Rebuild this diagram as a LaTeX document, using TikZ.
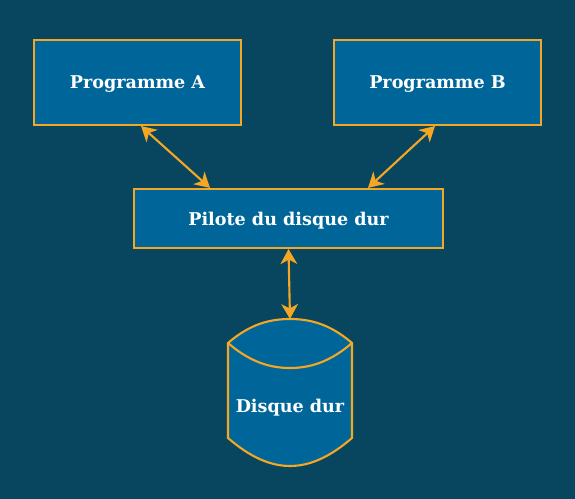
\documentclass[tikz,border=0pt]{standalone}
\usepackage{fontspec}
\setmainfont{DejaVu Serif}
\usetikzlibrary{arrows.meta}
\definecolor{bgteal}{HTML}{08465F}
\definecolor{boxblue}{HTML}{006699}
\definecolor{edgeorange}{HTML}{F5A623}
\begin{document}
\begin{tikzpicture}[x=0.02cm,y=-0.02cm,
  box/.style={draw=edgeorange,fill=boxblue,line width=1.2pt,text=white,text depth=0pt,
    font=\bfseries\fontsize{10}{12}\selectfont},
  link/.style={draw=edgeorange,line width=1.2pt,
    {Stealth[length=8.5pt,width=9.5pt,inset=2.5pt]}-{Stealth[length=8.5pt,width=9.5pt,inset=2.5pt]}}]
\fill[bgteal] (0,0) rectangle (575,499);
\node[box,minimum width=4.14cm,minimum height=1.7cm] (proga) at (137.5,82.5) {Programme A};
\node[box,minimum width=4.14cm,minimum height=1.7cm] (progb) at (437.5,82.5) {Programme B};
\node[box,minimum width=6.18cm,minimum height=1.18cm] (pilote) at (288.5,218.5) {Pilote du disque dur};
% the disk drawn by hand
\filldraw[fill=boxblue,draw=edgeorange,line width=1.2pt]
  (228,343) .. controls (250,324) and (270,319) .. (290,319)
  .. controls (310,319) and (330,324) .. (352,343) -- (352,438)
  .. controls (330,457) and (310,466) .. (290,466)
  .. controls (270,466) and (250,457) .. (228,438) -- cycle;
\draw[edgeorange,line width=1.2pt] (228,343) .. controls (250,362) and (270,368) .. (290,368)
  .. controls (310,368) and (330,362) .. (352,343);
\node[text=white,text depth=0pt,font=\bfseries\fontsize{10}{12}\selectfont] (disque) at (290,406) {Disque dur};
\coordinate (disktop) at (290,319);
\draw[link] ([xshift=0.07cm]proga.south) -- ([xshift=-1.57cm]pilote.north);
\draw[link] ([xshift=-0.05cm]progb.south) -- ([xshift=1.59cm]pilote.north);
\draw[link] (pilote.south) -- (disktop);
\end{tikzpicture}
\end{document}
